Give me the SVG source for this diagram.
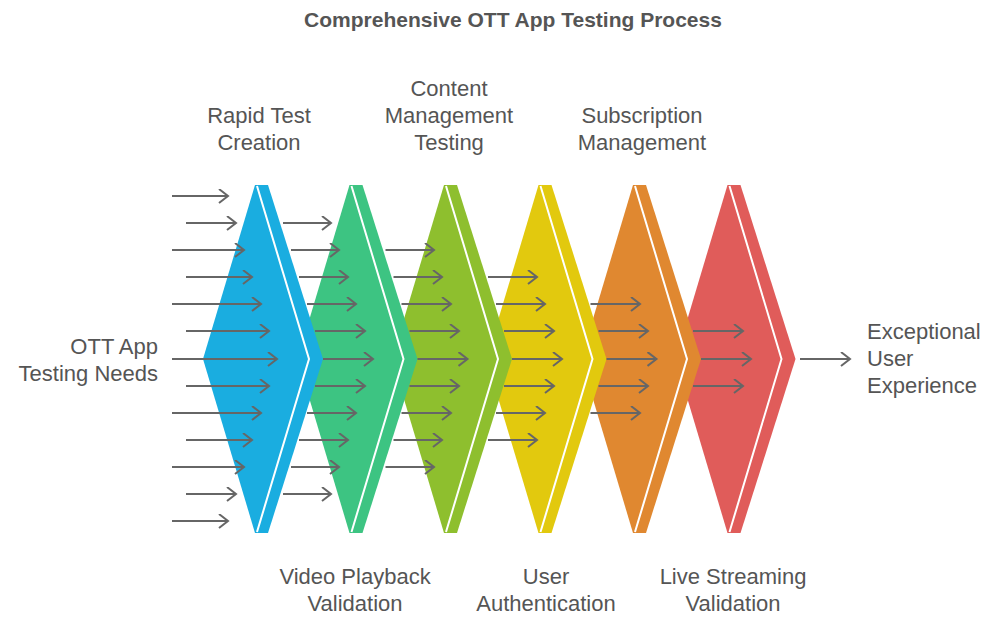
<svg xmlns="http://www.w3.org/2000/svg" width="998" height="621" viewBox="0 0 998 621">
<style>
text{font-family:"Liberation Sans",Arial,sans-serif;fill:#555;font-size:22px}
.t{font-weight:bold;font-size:21px;fill:#555}
.w{fill:none;stroke:#fff;stroke-width:2}
#arrows path{stroke:#666;stroke-width:2;fill:none;marker-end:url(#ah)}
</style>
<defs>
<marker id="ah" markerUnits="userSpaceOnUse" markerWidth="12" markerHeight="16" refX="10" refY="7" orient="auto"><path d="M1,0 L10,7 L1,14" fill="none" stroke="#666" stroke-width="2"/></marker>
<polygon id="sh" points="255,185 203,359 255,533 268,533 323,359 268,185"/>
<polyline id="wl" points="257,186 309,359 257,532"/>
</defs>
<rect width="998" height="621" fill="#fff"/>
<text class="t" x="513" y="27" text-anchor="middle">Comprehensive OTT App Testing Process</text>
<g id="s6" transform="translate(472.5,0)"><use href="#sh" fill="#E05C5A"/><use href="#wl" class="w"/></g>
<g id="s5" transform="translate(378,0)"><use href="#sh" fill="#E08830"/><use href="#wl" class="w"/></g>
<g id="s4" transform="translate(283.5,0)"><use href="#sh" fill="#E2C90E"/><use href="#wl" class="w"/></g>
<g id="s3" transform="translate(189,0)"><use href="#sh" fill="#8EBF2E"/><use href="#wl" class="w"/></g>
<g id="s2" transform="translate(94.5,0)"><use href="#sh" fill="#3DC482"/><use href="#wl" class="w"/></g>
<g id="s1"><use href="#sh" fill="#1AADE0"/><use href="#wl" class="w"/></g>
<g id="arrows">
<path d="M172,196H228"/><path d="M186,223H236"/><path d="M172,250H244"/><path d="M186,277H252"/><path d="M172,304H261"/><path d="M186,331H269"/><path d="M172,359H277"/><path d="M186,386H269"/><path d="M172,413H261"/><path d="M186,440H252"/><path d="M172,467H244"/><path d="M186,494H236"/><path d="M172,521H228"/>
<path d="M283,223H331"/><path d="M291,250H339"/><path d="M299,277H348"/><path d="M307,304H356"/><path d="M315,331H365"/><path d="M323,359H373"/><path d="M315,386H365"/><path d="M307,413H356"/><path d="M299,440H348"/><path d="M291,467H339"/><path d="M283,494H331"/>
<path d="M385.5,250H434"/><path d="M393.5,277H442"/><path d="M401.5,304H451"/><path d="M409.5,331H459"/><path d="M417.5,359H467.5"/><path d="M409.5,386H459"/><path d="M401.5,413H451"/><path d="M393.5,440H442"/><path d="M385.5,467H434"/>
<path d="M488,277H537"/><path d="M496,304H545"/><path d="M504,331H554"/><path d="M512,359H562"/><path d="M504,386H554"/><path d="M496,413H545"/><path d="M488,440H537"/>
<path d="M590.5,304H640"/><path d="M598.5,331H648"/><path d="M606.5,359H656.5"/><path d="M598.5,386H648"/><path d="M590.5,413H640"/>
<path d="M693,331H743"/><path d="M701,359H751"/><path d="M693,386H743"/>
<path d="M800,359H850"/>
</g>
<g id="labels">
<text x="259" y="123" text-anchor="middle">Rapid Test</text><text x="259" y="150" text-anchor="middle">Creation</text>
<text x="449" y="96" text-anchor="middle">Content</text><text x="449" y="123" text-anchor="middle">Management</text><text x="449" y="150" text-anchor="middle">Testing</text>
<text x="642" y="123" text-anchor="middle">Subscription</text><text x="642" y="150" text-anchor="middle">Management</text>
<text x="355" y="584" text-anchor="middle">Video Playback</text><text x="355" y="611" text-anchor="middle">Validation</text>
<text x="546" y="584" text-anchor="middle">User</text><text x="546" y="611" text-anchor="middle">Authentication</text>
<text x="733" y="584" text-anchor="middle">Live Streaming</text><text x="733" y="611" text-anchor="middle">Validation</text>
<text x="158" y="354" text-anchor="end">OTT App</text><text x="158" y="381" text-anchor="end">Testing Needs</text>
<text x="867" y="339">Exceptional</text><text x="867" y="366">User</text><text x="867" y="393">Experience</text>
</g>
</svg>
